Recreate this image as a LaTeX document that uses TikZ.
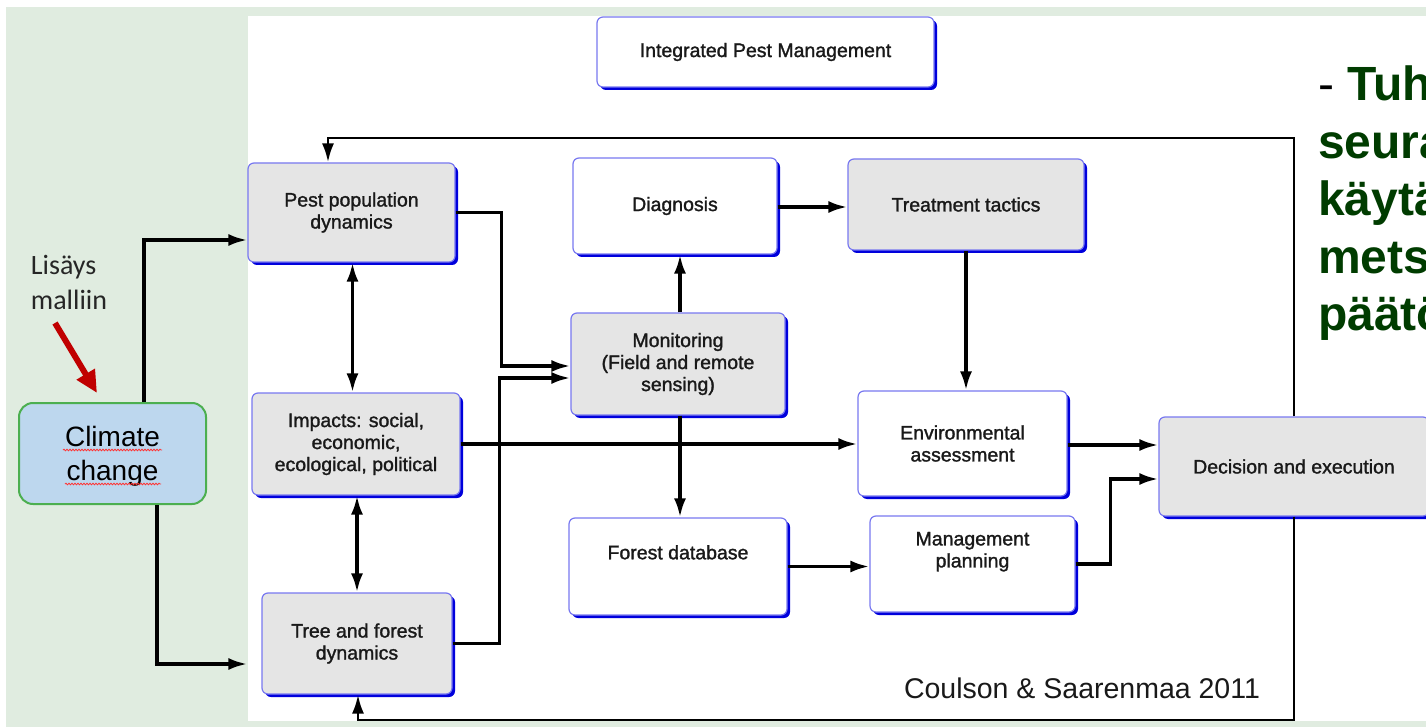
\documentclass[tikz,border=0pt]{standalone}
\usepackage{fontspec}
\setmainfont{Liberation Sans}
\newfontfamily\boxfont[FakeBold=1.4]{Liberation Sans}
\newfontfamily\calibri{Carlito}
\usetikzlibrary{arrows.meta,shadows,decorations.pathmorphing}
\definecolor{bggreen}{RGB}{224,236,224}
\definecolor{boxline}{RGB}{120,120,240}
\definecolor{shadowblue}{RGB}{0,0,220}
\definecolor{boxgray}{RGB}{229,229,229}
\definecolor{climblue}{RGB}{189,215,238}
\definecolor{climgreen}{RGB}{76,175,80}
\definecolor{darkred}{RGB}{192,0,0}
\definecolor{textgreen}{RGB}{0,60,0}
\tikzset{
  ipmbox/.style={draw=boxline, line width=1.2pt, fill=white, rounded corners=6pt,
    align=center, inner sep=0pt, text=black!90, font=\boxfont\fontsize{19.5}{22}\selectfont,
    drop shadow={shadow xshift=3pt, shadow yshift=-3pt, fill=shadowblue, opacity=1}},
  graybox/.style={ipmbox, fill=boxgray},
  climbox/.style={draw=climgreen, line width=2pt, fill=climblue, rounded corners=14pt,
    inner sep=0pt},
  arrowline/.style={line width=3.4pt, -{Latex[length=19pt,width=12pt]}},
  twoway/.style={line width=3.4pt, {Latex[length=19pt,width=12pt]}-{Latex[length=19pt,width=12pt]}},
  feedback/.style={line width=2.8pt, -{Latex[length=19pt,width=12pt]}},
  redarrow/.style={darkred, line width=6pt, -{Triangle[length=22pt,width=20pt]}},
  spellwave/.style={red!80, line width=0.8pt, decorate,
    decoration={snake, amplitude=0.8pt, segment length=3pt}}
}
\begin{document}
\begin{tikzpicture}[x=1pt,y=-1pt]
\useasboundingbox (0,0) rectangle (1426,727);
\clip (0,0) rectangle (1426,727);
\fill[bggreen] (6,7) rectangle (1426,727);
\fill[white] (248,16) rectangle (1426,721);

\draw (765.5,52) node[ipmbox, minimum width=337pt, minimum height=70pt] (ipm) {Integrated Pest Management};
\draw (351.5,212.5) node[graybox, minimum width=207pt, minimum height=99pt] (pest) {Pest population\\dynamics};
\draw (675,206) node[ipmbox, minimum width=204pt, minimum height=96pt] (diag) {Diagnosis};
\draw (966,204.5) node[graybox, minimum width=236pt, minimum height=91pt] (treat) {Treatment tactics};
\draw (678,364) node[graybox, minimum width=214pt, minimum height=102pt] (monit) {Monitoring\\(Field and remote\\sensing)};
\draw (356,444) node[graybox, minimum width=208pt, minimum height=102pt] (impacts) {Impacts: social,\\economic,\\ecological, political};
\draw (357,643.5) node[graybox, minimum width=190pt, minimum height=101pt] (tree) {Tree and forest\\dynamics};
\draw (678,566.5) node[ipmbox, minimum width=218pt, minimum height=97pt] (fdb) {Forest database\\\strut};
\draw (962.5,443.5) node[ipmbox, minimum width=209pt, minimum height=105pt] (env) {Environmental\\assessment};
\draw (972.5,564) node[ipmbox, minimum width=205pt, minimum height=96pt] (mgmt) {Management\\planning\\\strut};
\draw (1294,466.5) node[graybox, minimum width=270pt, minimum height=99pt] (dec) {Decision and execution};
\draw (112.5,453.5) node[climbox, minimum width=187pt, minimum height=101pt,
  label={[yshift=-3pt, align=center, font=\fontsize{28}{34}\selectfont]center:Climate\\change}] (climate) {};
\draw[spellwave] (63,450) -- (162,450);
\draw[spellwave] (65,484) -- (161,484);

\draw (69,282) node[align=left, inner sep=0pt, text=black!85, font=\calibri\fontsize{28}{35}\selectfont] (lisays) {Lisäys\\malliin};
\draw (1082,688) node[inner sep=0pt, text=black!90, font=\fontsize{28.5}{32}\selectfont] (cite) {Coulson \& Saarenmaa 2011};
\draw (1318,66) node[anchor=north west, align=left, inner sep=0pt, text=textgreen,
  font=\fontsize{48}{57.5}\selectfont\bfseries] (note) {{\color{black}\mdseries -} Tuh\\seura\\käytä\\mets\\päätö};

\coordinate (redtail) at (55,323);
\coordinate (redtip) at (97,393);
\draw[redarrow] (redtail) -- (redtip);

\draw[arrowline] ([xshift=31.5pt]climate.north) |- ([yshift=-27.5pt]pest.west);
\draw[arrowline, shorten >=14pt] ([xshift=44.5pt]climate.south) |- ([yshift=-20.5pt]tree.west);
\draw[twoway] ([xshift=1pt]pest.south) -- ([xshift=1pt]pest.south |- impacts.north);
\draw[twoway] (tree.north |- impacts.south) -- (tree.north);
\draw[arrowline] (pest.east) -- ++(46,0) |- ([yshift=-2pt]monit.west);
\draw[arrowline] (tree.east) -- ++(47,0) |- ([yshift=-14pt]monit.west);
\draw[arrowline] (impacts.east) -- (impacts.east -| env.west);
\draw[arrowline] ([xshift=2pt]monit.north) -- ([xshift=2pt]monit.north |- diag.south);
\draw[arrowline] ([xshift=2pt]monit.south) -- ([xshift=2pt]monit.south |- fdb.north);
\draw[arrowline] ([yshift=-1pt]diag.east) -- ([yshift=-1pt]diag.east -| treat.west);
\draw[arrowline] (treat.south) -- (treat.south |- env.north);
\draw[arrowline] (fdb.east) -- (fdb.east -| mgmt.west);
\draw[arrowline] ([yshift=-1.5pt]env.east) -- ([yshift=-1.5pt]env.east -| dec.west);
\draw[arrowline] (mgmt.east) -- ++(35,0) |- ([yshift=-12.5pt]dec.west);
\coordinate (fbtop) at (0,138);
\coordinate (fbbot) at (0,720);
\draw[feedback] (dec.north) -- (dec.north |- fbtop) -| ([xshift=-23.5pt]pest.north);
\draw[feedback] (dec.south) -- (dec.south |- fbbot) -| ([xshift=1pt]tree.south);
\end{tikzpicture}
\end{document}
